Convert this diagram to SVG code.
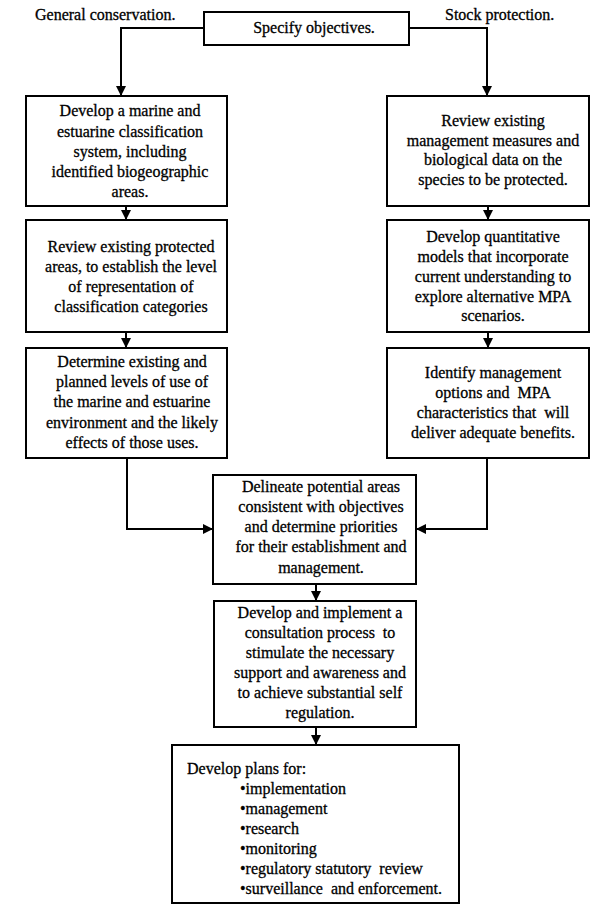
<svg xmlns="http://www.w3.org/2000/svg" width="599" height="916" viewBox="0 0 599 916">
<style>
rect.box{fill:#fff;stroke:#000;stroke-width:2}
text{font-family:"Liberation Serif","Times New Roman",serif;font-size:16px;fill:#000;stroke:#000;stroke-width:0.3}
.c{text-anchor:middle}
.conn path{fill:none;stroke:#000;stroke-width:2;marker-end:url(#ah)}
</style>
<defs>
<marker id="ah" markerUnits="userSpaceOnUse" markerWidth="10" markerHeight="10" refX="10" refY="5" orient="auto" viewBox="0 0 10 10">
<path d="M0,0 L10,5 L0,10 z" fill="#000"/>
</marker>
</defs>
<rect width="599" height="916" fill="#fff"/>
<g class="conn" id="connectors">
<path d="M204,28 H121 V96"/>
<path d="M409,28 H487 V96"/>
<path d="M126,206 V220"/>
<path d="M126,332 V348"/>
<path d="M488,206 V220"/>
<path d="M488,332 V348"/>
<path d="M127,458 V529 H213"/>
<path d="M487,458 V529 H416"/>
<path d="M316,584 V601"/>
<path d="M316,727 V745"/>
</g>
<g id="label-general"><text x="35" y="20">General conservation.</text></g>
<g id="label-stock"><text x="445" y="20">Stock protection.</text></g>
<g id="n-specify">
<rect class="box" x="204" y="12" width="205" height="33"/>
<text class="c" x="314" y="33">Specify objectives.</text>
</g>
<g id="n-l1">
<rect class="box" x="26" y="96" width="201" height="110"/>
<text class="c" x="130" y="116">Develop a marine and</text>
<text class="c" x="130" y="136.5">estuarine classification</text>
<text class="c" x="130" y="157">system, including</text>
<text class="c" x="130" y="177">identified biogeographic</text>
<text class="c" x="130" y="197">areas.</text>
</g>
<g id="n-l2">
<rect class="box" x="26" y="220" width="201" height="112"/>
<text class="c" x="131" y="252">Review existing protected</text>
<text class="c" x="131" y="272">areas, to establish the level</text>
<text class="c" x="131" y="292">of representation of</text>
<text class="c" x="131" y="312">classification categories</text>
</g>
<g id="n-l3">
<rect class="box" x="26" y="348" width="201" height="110"/>
<text class="c" x="132" y="367">Determine existing and</text>
<text class="c" x="132" y="387">planned levels of use of</text>
<text class="c" x="132" y="407">the marine and estuarine</text>
<text class="c" x="132" y="427.5">environment and the likely</text>
<text class="c" x="132" y="448">effects of those uses.</text>
</g>
<g id="n-r1">
<rect class="box" x="387" y="96" width="202" height="110"/>
<text class="c" x="493" y="126">Review existing</text>
<text class="c" x="493" y="146">management measures and</text>
<text class="c" x="493" y="165">biological data on the</text>
<text class="c" x="493" y="185">species to be protected.</text>
</g>
<g id="n-r2">
<rect class="box" x="387" y="220" width="202" height="112"/>
<text class="c" x="493" y="242">Develop quantitative</text>
<text class="c" x="493" y="262">models that incorporate</text>
<text class="c" x="493" y="282">current understanding to</text>
<text class="c" x="493" y="302">explore alternative MPA</text>
<text class="c" x="493" y="321">scenarios.</text>
</g>
<g id="n-r3">
<rect class="box" x="387" y="348" width="202" height="110"/>
<text class="c" x="493" y="378">Identify management</text>
<text class="c" x="493" y="398" xml:space="preserve">options and  MPA</text>
<text class="c" x="493" y="418" xml:space="preserve">characteristics that  will</text>
<text class="c" x="493" y="438">deliver adequate benefits.</text>
</g>
<g id="n-c1">
<rect class="box" x="213" y="475" width="203" height="109"/>
<text class="c" x="321" y="492">Delineate potential areas</text>
<text class="c" x="321" y="512">consistent with objectives</text>
<text class="c" x="321" y="532">and determine priorities</text>
<text class="c" x="321" y="552">for their establishment and</text>
<text class="c" x="321" y="573">management.</text>
</g>
<g id="n-c2">
<rect class="box" x="214" y="601" width="202" height="126"/>
<text class="c" x="320" y="618">Develop and implement a</text>
<text class="c" x="320" y="638" xml:space="preserve">consultation process  to</text>
<text class="c" x="320" y="658">stimulate the necessary</text>
<text class="c" x="320" y="678">support and awareness and</text>
<text class="c" x="320" y="698">to achieve substantial self</text>
<text class="c" x="320" y="718">regulation.</text>
</g>
<g id="n-c3">
<rect class="box" x="172" y="745" width="287" height="158"/>
<text x="187" y="774">Develop plans for:</text>
<text x="240" y="794">•implementation</text>
<text x="240" y="814">•management</text>
<text x="240" y="834">•research</text>
<text x="240" y="854">•monitoring</text>
<text x="240" y="874" xml:space="preserve">•regulatory statutory  review</text>
<text x="240" y="894" xml:space="preserve">•surveillance  and enforcement.</text>
</g>
</svg>
